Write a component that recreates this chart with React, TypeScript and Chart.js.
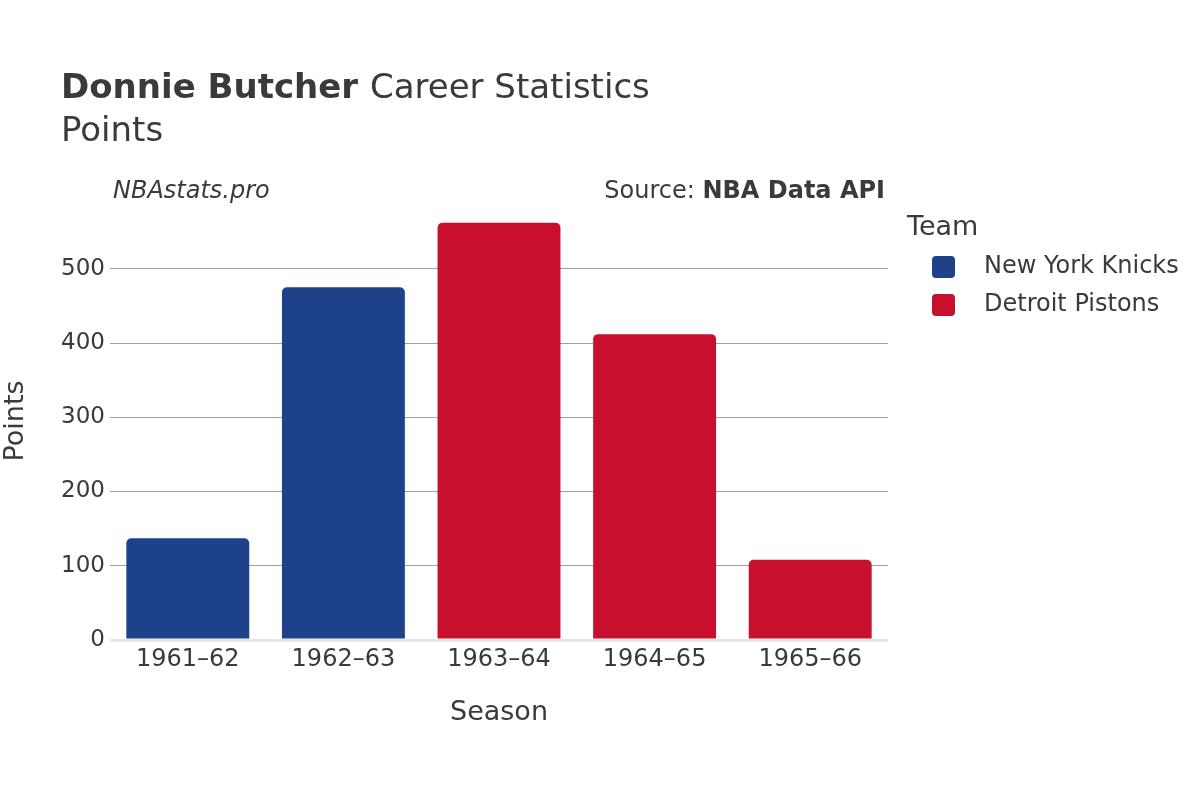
import React, { useEffect, useRef } from "react";
import { Chart, registerables } from "chart.js";

Chart.register(...registerables);

const seasons = ["1961–62", "1962–63", "1963–64", "1964–65", "1965–66"];
const knicksPoints = [137, 475, null, null, null];
const pistonsPoints = [null, null, 562, 412, 108];
const teamNames = ["New York Knicks", "Detroit Pistons"];
const teamColors = ["#1d428a", "#c8102e"];
const yTicks = [0, 100, 200, 300, 400, 500];

const FONT = "'DejaVu Sans', sans-serif";
const TEXT = "#3a3a3a";

const overlay = {
  id: "overlay",
  afterDraw(chart: any) {
    const ctx = chart.ctx;
    ctx.save();
    ctx.textBaseline = "middle";
    ctx.fillStyle = TEXT;
    // Title
    ctx.textAlign = "left";
    ctx.font = `bold 34px ${FONT}`;
    const bold = "Donnie Butcher";
    ctx.fillText(bold, 61, 89);
    const w = ctx.measureText(bold + " ").width;
    ctx.font = `34px ${FONT}`;
    ctx.fillText("Career Statistics", 61 + w, 89);
    ctx.fillText("Points", 61, 132);
    // Watermark + source
    ctx.font = `italic 24px ${FONT}`;
    ctx.fillText("NBAstats.pro", 113, 192);
    ctx.textAlign = "right";
    ctx.font = `bold 24px ${FONT}`;
    const src = "NBA Data API";
    ctx.fillText(src, 885, 192);
    const sw = ctx.measureText(src).width;
    ctx.font = `24px ${FONT}`;
    ctx.fillText("Source: ", 885 - sw, 192);
    // Legend
    ctx.textAlign = "left";
    ctx.font = `27px ${FONT}`;
    ctx.fillText("Team", 907, 228);
    ctx.font = `24px ${FONT}`;
    chart.data.datasets.forEach((ds: any, i: number) => {
      const y = 267 + i * 38;
      ctx.fillStyle = ds.backgroundColor;
      ctx.beginPath();
      (ctx as any).roundRect(932, y - 11, 23, 22, 4);
      ctx.fill();
      ctx.fillStyle = TEXT;
      ctx.fillText(ds.label, 984, y);
    });
    ctx.restore();
  },
};

export default function App() {
  const ref = useRef<HTMLCanvasElement>(null);
  useEffect(() => {
    const chart = new Chart(ref.current!, {
      type: "bar",
      data: {
        labels: seasons,
        datasets: [
          {
            label: teamNames[0],
            data: knicksPoints,
            backgroundColor: teamColors[0],
            borderRadius: 5,
            borderSkipped: "bottom",
          },
          {
            label: teamNames[1],
            data: pistonsPoints,
            backgroundColor: teamColors[1],
            borderRadius: 5,
            borderSkipped: "bottom",
          },
        ] as any,
      },
      options: {
        animation: false,
        responsive: false,
        maintainAspectRatio: false,
        layout: { padding: { left: 0, right: 312, top: 202, bottom: 60 } },
        datasets: { bar: { grouped: false, categoryPercentage: 1, barPercentage: 0.79 } } as any,
        plugins: { legend: { display: false }, tooltip: { enabled: false }, title: { display: false } },
        scales: {
          x: {
            grid: { display: false, drawTicks: false },
            border: { display: false },
            ticks: { color: TEXT, font: { family: FONT, size: 24 }, padding: 5, maxRotation: 0 },
            title: { display: true, text: "Season", color: TEXT, font: { family: FONT, size: 27 }, padding: { top: 0, bottom: 11 } },
            afterFit(scale: any) {
              scale.height = 100;
            },
          },
          y: {
            min: 0,
            max: 590,
            afterBuildTicks(scale: any) {
              scale.ticks = yTicks.map((v) => ({ value: v }));
            },
            grid: {
              drawTicks: false,
              color: (c: any) => (c.tick && c.tick.value === 0 ? "#e6e6e6" : "#a0a0a0"),
              lineWidth: (c: any) => (c.tick && c.tick.value === 0 ? 3 : 1),
            },
            border: { display: false },
            ticks: { color: TEXT, font: { family: FONT, size: 23 }, padding: 5 },
            title: { display: true, text: "Points", color: TEXT, font: { family: FONT, size: 27 }, padding: { top: 0, bottom: 0 } },
            afterFit(scale: any) {
              scale.width = 110;
            },
          },
        },
      },
      plugins: [overlay],
    });
    return () => chart.destroy();
  }, []);
  return (
    <div style={{ position: "fixed", left: 0, top: 0, width: 1200, height: 800, background: "#fff" }}>
      <canvas ref={ref} width={1200} height={800} style={{ width: 1200, height: 800 }} />
    </div>
  );
}
